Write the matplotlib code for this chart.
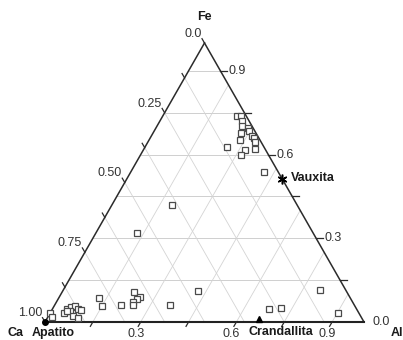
from typing import Tuple

import matplotlib

matplotlib.use("Agg")
import matplotlib.pyplot as plt
import numpy as np


# Sample compositions (fractions), Ca = 1 - Fe - Al
FE = [
    0.738, 0.737, 0.722, 0.704, 0.695, 0.685, 0.677, 0.668, 0.658, 0.651, 0.646,
    0.628, 0.615, 0.621, 0.600, 0.538,
    0.419, 0.318, 0.111, 0.060, 0.115, 0.048, 0.050, 0.031,
    0.085, 0.056, 0.062, 0.109, 0.091, 0.081, 0.070, 0.061,
    0.033, 0.019, 0.034, 0.047, 0.054, 0.059, 0.048, 0.043, 0.039, 0.023, 0.014, 0.038,
]
AL = [
    0.234, 0.245, 0.257, 0.267, 0.289, 0.297, 0.276, 0.315, 0.325, 0.286, 0.335,
    0.258, 0.321, 0.347, 0.315, 0.418,
    0.190, 0.130, 0.425, 0.362, 0.805, 0.679, 0.714, 0.902,
    0.128, 0.152, 0.207, 0.226, 0.251, 0.248, 0.241, 0.246,
    0.000, 0.012, 0.044, 0.047, 0.055, 0.065, 0.081, 0.091, 0.059, 0.075, 0.096, 0.049,
]

# Reference minerals: (name, Fe, Al)
MINERALS = [("Apatito", 0.0, 0.0), ("Crandallita", 0.01, 0.665), ("Vauxita", 0.512, 0.488)]

LEFT_TICKS = [0.0, 0.25, 0.50, 0.75, 1.00]
LEFT_LABELS = ["0.0", "0.25", "0.50", "0.75", "1.00"]
RIGHT_TICKS = [0.9, 0.6, 0.3, 0.0]
RIGHT_LABELS = ["0.9", "0.6", "0.3", "0.0"]
BOTTOM_TICKS = [0.3, 0.6, 0.9]
BOTTOM_LABELS = ["0.3", "0.6", "0.9"]

H = np.sqrt(3) / 2
PX_X = 1 / 319.0
PX_Y = H / 279.0
EDGE = "#2b2b2b"


def _xy(fe, al):
    fe = np.asarray(fe, dtype=float)
    al = np.asarray(al, dtype=float)
    return al + fe / 2, fe * H


def _line(ax, p0: Tuple[float, float], p1: Tuple[float, float], **kw) -> None:
    x0, y0 = _xy(*p0)
    x1, y1 = _xy(*p1)
    ax.plot([x0, x1], [y0, y1], **kw)


def _grid(ax) -> None:
    kw = {"color": "#d4d4d4", "linewidth": 0.6, "zorder": 1}
    for f in np.arange(0.15, 0.91, 0.15):
        _line(ax, (f, 0.0), (f, 1 - f), color="#c8c8c8", linewidth=0.6, zorder=1)
    for a in np.arange(0.15, 0.91, 0.15):
        _line(ax, (0.0, a), (1 - a, a), **kw)
    for c in np.arange(0.125, 0.88, 0.125):
        _line(ax, (1 - c, 0.0), (0.0, 1 - c), **kw)


def _frame(ax) -> None:
    _line(ax, (0.0, 0.0), (1.0, 0.0), color=EDGE, linewidth=1.1, zorder=3)
    _line(ax, (1.0, 0.0), (0.0, 1.0), color=EDGE, linewidth=1.1, zorder=3)
    _line(ax, (0.0, 0.0), (0.0, 1.0), color="#222222", linewidth=1.5, zorder=3)
    tl = 5.0
    # left edge ticks (Ca), outward up-left
    for c in np.arange(0.0, 1.001, 0.125):
        x, y = _xy(1 - c, 0.0)
        ax.plot([x, x - 0.5 * tl * PX_X], [y, y + 0.866 * tl * PX_Y], color=EDGE, lw=0.9, zorder=3)
    # right edge ticks (Fe), horizontal outward
    for f in np.arange(0.15, 0.91, 0.15):
        x, y = _xy(f, 1 - f)
        ax.plot([x, x + 7 * PX_X], [y, y], color=EDGE, lw=0.9, zorder=3)
    # bottom ticks (Al), outward down-left
    for a in np.arange(0.15, 0.91, 0.15):
        x, y = _xy(0.0, a)
        ax.plot([x, x - 0.5 * tl * PX_X], [y, y - 0.866 * tl * PX_Y], color=EDGE, lw=0.9, zorder=3)


def _labels(ax) -> None:
    num = {"fontsize": 9, "color": "#333333", "textcoords": "offset pixels"}
    for c, lab in zip(LEFT_TICKS, LEFT_LABELS):
        x, y = _xy(1 - c, 0.0)
        ax.annotate(lab, (x, y), xytext=(-3, 9), ha="right", va="center", **num)
    for f, lab in zip(RIGHT_TICKS, RIGHT_LABELS):
        x, y = _xy(f, 1 - f)
        ax.annotate(lab, (x, y), xytext=(8, 0), ha="left", va="center", **num)
    for a, lab in zip(BOTTOM_TICKS, BOTTOM_LABELS):
        x, y = _xy(0.0, a)
        ax.annotate(lab, (x, y), xytext=(-5, -12), ha="center", va="center", **num)

    bold = {"fontsize": 9, "fontweight": "bold", "color": "#1a1a1a", "textcoords": "offset pixels"}
    ax.annotate("Fe", _xy(1.0, 0.0), xytext=(0, 26), ha="center", va="center", **bold)
    ax.annotate("Ca", _xy(0.0, 0.0), xytext=(-30, -11), ha="center", va="center", **bold)
    ax.annotate("Al", _xy(0.0, 1.0), xytext=(27, -11), ha="left", va="center", **bold)


def _minerals(ax) -> None:
    txt = {"textcoords": "offset pixels", "va": "center", "ha": "left",
           "fontsize": 9, "fontweight": "bold", "color": "#1a1a1a"}

    name, fe, al = MINERALS[0]
    x, y = _xy(fe, al)
    ax.plot(x, y, "o", color="black", ms=4, zorder=5, clip_on=False)
    ax.annotate(name, (x, y), xytext=(-13, -11), **txt)

    name, fe, al = MINERALS[1]
    x, y = _xy(fe, al)
    ax.plot(x, y, "^", color="black", ms=4.5, zorder=5)
    ax.annotate(name, (x, y), xytext=(-10, -13), **txt)

    name, fe, al = MINERALS[2]
    x, y = _xy(fe, al)
    ax.plot(x, y, marker=(6, 2, 0), color="black", ms=7, mew=1.1, zorder=5)
    ax.annotate(name, (x, y), xytext=(9, 1), **txt)


def main() -> None:
    plt.rcParams["font.family"] = ["Liberation Sans", "DejaVu Sans"]
    fig = plt.figure(figsize=(4.03, 3.40), dpi=100)
    ax = fig.add_axes([0, 0, 1, 1])
    ax.set_xlim(-45 * PX_X, 358 * PX_X)
    ax.set_ylim(-18 * PX_Y, 322 * PX_Y)
    ax.axis("off")

    _grid(ax)
    _frame(ax)

    x, y = _xy(FE, AL)
    ax.plot(x, y, "s", ms=5, mfc="white", mec="#4a4a4a", mew=0.9, linestyle="none", zorder=4)

    _minerals(ax)
    _labels(ax)

    fig.savefig("out.png", dpi=100)
    plt.close(fig)


if __name__ == "__main__":
    main()
